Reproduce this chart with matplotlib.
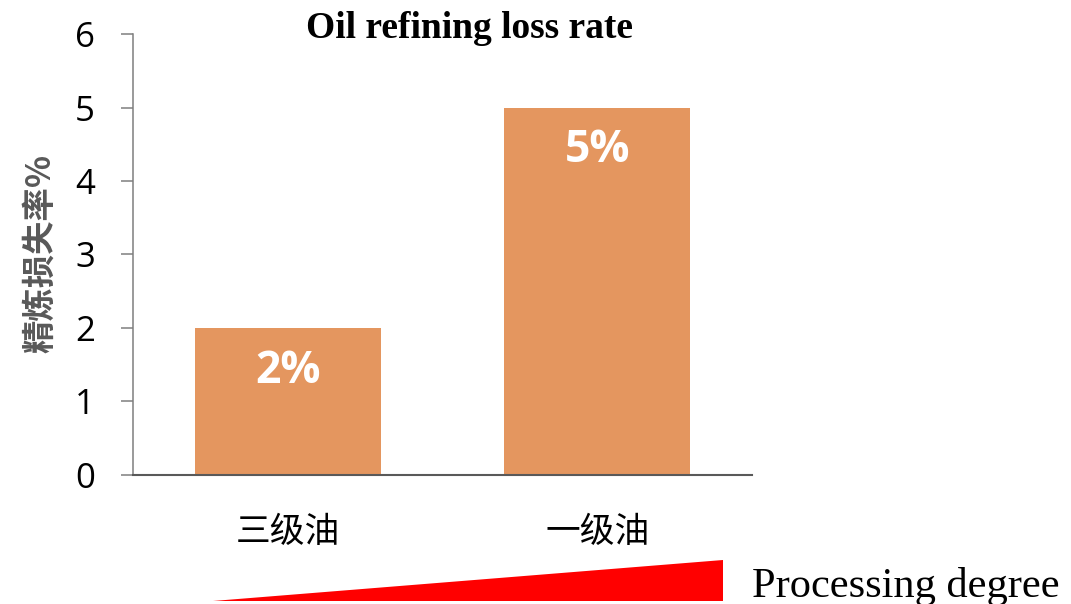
import matplotlib.pyplot as plt
from matplotlib.patches import Polygon

# Data
categories = ['三级油', '一级油']
loss_rate = [2, 5]
value_labels = ['2%', '5%']

bar_color = '#E4965F'
axis_color = '#7F7F7F'

fig = plt.figure(figsize=(10.71, 6.04), dpi=100)
ax = fig.add_axes([0.1242, 0.2136, 0.578, 0.7301])

x = range(len(categories))
bars = ax.bar(x, loss_rate, width=0.6, color=bar_color)

# Values written inside the bars
for bar, v, txt in zip(bars, loss_rate, value_labels):
    ax.text(bar.get_x() + bar.get_width() / 2, v - 0.59, txt,
            ha='center', va='center', color='white', fontsize=32,
            fontweight='bold', family='Open Sans')

ax.set_xlim(-0.5, 1.5)
ax.set_ylim(0, 6)
ax.set_yticks(range(0, 7))
ax.set_xticks(list(x))
ax.set_xticklabels(categories, family=['Noto Sans CJK SC', 'DejaVu Sans'], fontsize=25)
ax.tick_params(axis='x', length=0, pad=29)
ax.tick_params(axis='y', length=8.5, width=1.1, color=axis_color, pad=19, labelsize=25)
for lab in ax.get_yticklabels():
    lab.set_family('Open Sans')

ax.spines['top'].set_visible(False)
ax.spines['right'].set_visible(False)
ax.spines['left'].set_color(axis_color)
ax.spines['left'].set_linewidth(1.1)
ax.spines['bottom'].set_color('#595959')
ax.spines['bottom'].set_linewidth(1.5)

ax.set_ylabel('精炼损失率%', family=['Noto Sans CJK SC', 'DejaVu Sans'],
              fontsize=24, fontweight='bold', color='#595959')
ax.yaxis.set_label_coords(-0.122, 0.503)

fig.text(0.438, 0.953, 'Oil refining loss rate', ha='center', va='center',
         family='Liberation Serif', fontweight='bold', fontsize=27)

# Red wedge showing increasing processing degree
wedge = Polygon([[0.199, 0.005], [0.675, 0.005], [0.675, 0.073]], closed=True,
                facecolor='#FF0000', edgecolor='none', transform=fig.transFigure)
fig.patches.append(wedge)
fig.text(0.702, 0.012, 'Processing degree', ha='left', va='baseline',
         family='Liberation Serif', fontsize=30.5)

fig.savefig('out.png', dpi=100)
